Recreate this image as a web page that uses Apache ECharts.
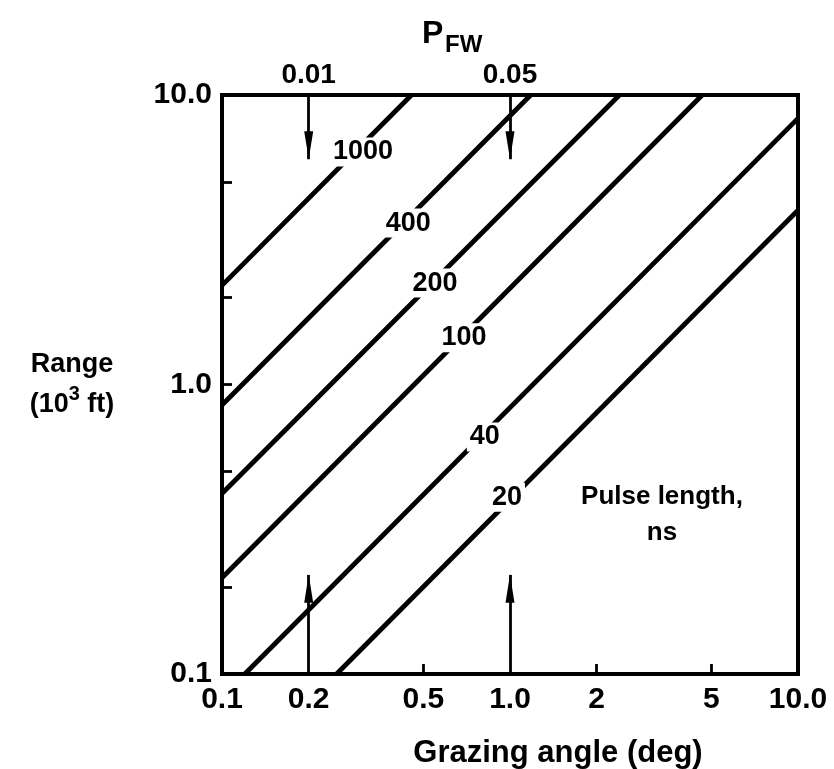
<!DOCTYPE html>
<html>
<head>
<meta charset="utf-8">
<script src="https://cdn.jsdelivr.net/npm/echarts@6/dist/echarts.min.js"></script>
<style>
html,body{margin:0;padding:0;background:#fff;}
#main{width:834px;height:769px;}
</style>
</head>
<body>
<div id="main"></div>
<script>
// ---- data ----
const xTicks = [0.1, 0.2, 0.5, 1, 2, 5, 10];
const xTickLabels = ['0.1', '0.2', '0.5', '1.0', '2', '5', '10.0'];
const xMinorTicks = [0.5, 2, 5];
const yTicks = [0.1, 1, 10];
const yTickLabels = ['0.1', '1.0', '10.0'];
const yMinorTicks = [0.2, 0.5, 1, 2, 5];

const pulseLengths = ['1000', '400', '200', '100', '40', '20'];
const lineStart = [[0.1, 2.2], [0.1, 0.85], [0.1, 0.42], [0.1, 0.215], [0.12, 0.1], [0.25, 0.1]];
const lineEnd = [[0.455, 10], [1.18, 10], [2.4, 10], [4.65, 10], [10, 8.3], [10, 4.0]];
const labelPos = [[0.309, 6.36], [0.443, 3.61], [0.549, 2.24], [0.692, 1.45], [0.818, 0.659], [0.976, 0.408]];

const pfwLabels = ['0.01', '0.05'];
const pfwAngles = [0.2, 1.0];
const topArrowTip = 6.0;
const bottomArrowTip = 0.22;

const noteText = 'Pulse length,\nns';
const notePos = [3.37, 0.354];

// ---- chart ----
const FONT = '"Liberation Sans", Arial, sans-serif';
function fmt(values, labels) {
  return function (v) {
    for (let i = 0; i < values.length; i++) {
      if (Math.abs(v - values[i]) / values[i] < 1e-6) return labels[i];
    }
    return '';
  };
}
const txt = { fontFamily: FONT, fontWeight: 'bold', color: '#000' };
const hiddenItem = { color: 'rgba(0,0,0,0)', opacity: 1 };

const series = [];
pulseLengths.forEach((p, i) => {
  series.push({
    type: 'line', name: 'τ=' + p, data: [lineStart[i], lineEnd[i]],
    symbol: 'none', silent: true, z: 2,
    lineStyle: { color: '#000', width: 4.8, cap: 'butt' }
  });
});
series.push({
  type: 'scatter', data: labelPos, symbolSize: 1, z: 5, silent: true,
  itemStyle: hiddenItem,
  label: Object.assign({
    show: true, position: 'inside', fontSize: 27, backgroundColor: '#fff', padding: [1, 3], opacity: 1,
    formatter: (p) => pulseLengths[p.dataIndex]
  }, txt)
});
series.push({
  type: 'scatter', data: [notePos], symbolSize: 1, z: 5, silent: true,
  itemStyle: hiddenItem,
  label: Object.assign({
    show: true, position: 'inside', fontSize: 26, lineHeight: 36, align: 'center', opacity: 1,
    formatter: () => noteText
  }, txt)
});
series.push({
  type: 'scatter', data: pfwAngles.map(a => [a, 10]), symbolSize: 1, z: 5, silent: true,
  itemStyle: hiddenItem,
  label: Object.assign({
    show: true, position: 'top', distance: 5, fontSize: 28, opacity: 1,
    formatter: (p) => pfwLabels[p.dataIndex]
  }, txt)
});
const arrowData = [];
pfwAngles.forEach(a => {
  arrowData.push([{ coord: [a, 10] }, { coord: [a, topArrowTip] }]);
  arrowData.push([{ coord: [a, 0.1] }, { coord: [a, bottomArrowTip] }]);
});
series.push({
  type: 'line', data: [], silent: true,
  markLine: {
    silent: true, animation: false,
    symbol: ['none', 'triangle'], symbolSize: [9, 28], symbolOffset: [[0, 0], [0, 14]],
    lineStyle: { color: '#000', width: 2.8, type: 'solid' },
    itemStyle: { color: '#000' },
    label: { show: false },
    data: arrowData
  }
});

const option = {
  backgroundColor: '#fff',
  animation: false,
  title: [
    { text: 'P', left: 417, top: 13, textStyle: Object.assign({ fontSize: 32 }, txt) },
    { text: 'FW', left: 440, top: 28, textStyle: Object.assign({ fontSize: 24 }, txt) }
  ],
  grid: {
    left: 222, right: 36, top: 95, bottom: 95, show: true, borderColor: '#000', borderWidth: 4,
    containLabel: false, outerBoundsMode: 'none'
  },
  xAxis: {
    type: 'log', logBase: 10, min: 0.1, max: 10,
    name: 'Grazing angle (deg)', nameLocation: 'middle', nameGap: 64,
    nameTextStyle: Object.assign({ fontSize: 31, padding: [0, 0, 0, 96] }, txt),
    axisLine: { lineStyle: { color: '#000', width: 4 } },
    axisTick: { show: true, inside: true, length: 10, customValues: xMinorTicks, lineStyle: { color: '#000', width: 2.8 } },
    minorTick: { show: false },
    axisLabel: Object.assign({ fontSize: 30, margin: 11, customValues: xTicks, formatter: fmt(xTicks, xTickLabels) }, txt),
    splitLine: { show: false }
  },
  yAxis: {
    type: 'log', logBase: 10, min: 0.1, max: 10,
    name: '{n|Range}\n{n|(10}{s|3}{n| ft)}', nameLocation: 'middle', nameGap: 150, nameRotate: 0,
    nameTextStyle: Object.assign({
      fontSize: 27, align: 'center', verticalAlign: 'middle',
      rich: {
        n: Object.assign({ fontSize: 27, lineHeight: 40 }, txt),
        s: Object.assign({ fontSize: 20, lineHeight: 18, verticalAlign: 'top' }, txt)
      }
    }, txt),
    axisLine: { lineStyle: { color: '#000', width: 4 } },
    axisTick: { show: true, inside: true, length: 10, customValues: yMinorTicks, lineStyle: { color: '#000', width: 2.8 } },
    minorTick: { show: false },
    axisLabel: Object.assign({ fontSize: 30, margin: 10, customValues: yTicks, formatter: fmt(yTicks, yTickLabels) }, txt),
    splitLine: { show: false }
  },
  series: series
};
const chart = echarts.init(document.getElementById('main'), null, { renderer: 'canvas' });
chart.setOption(option);
</script>
</body>
</html>
